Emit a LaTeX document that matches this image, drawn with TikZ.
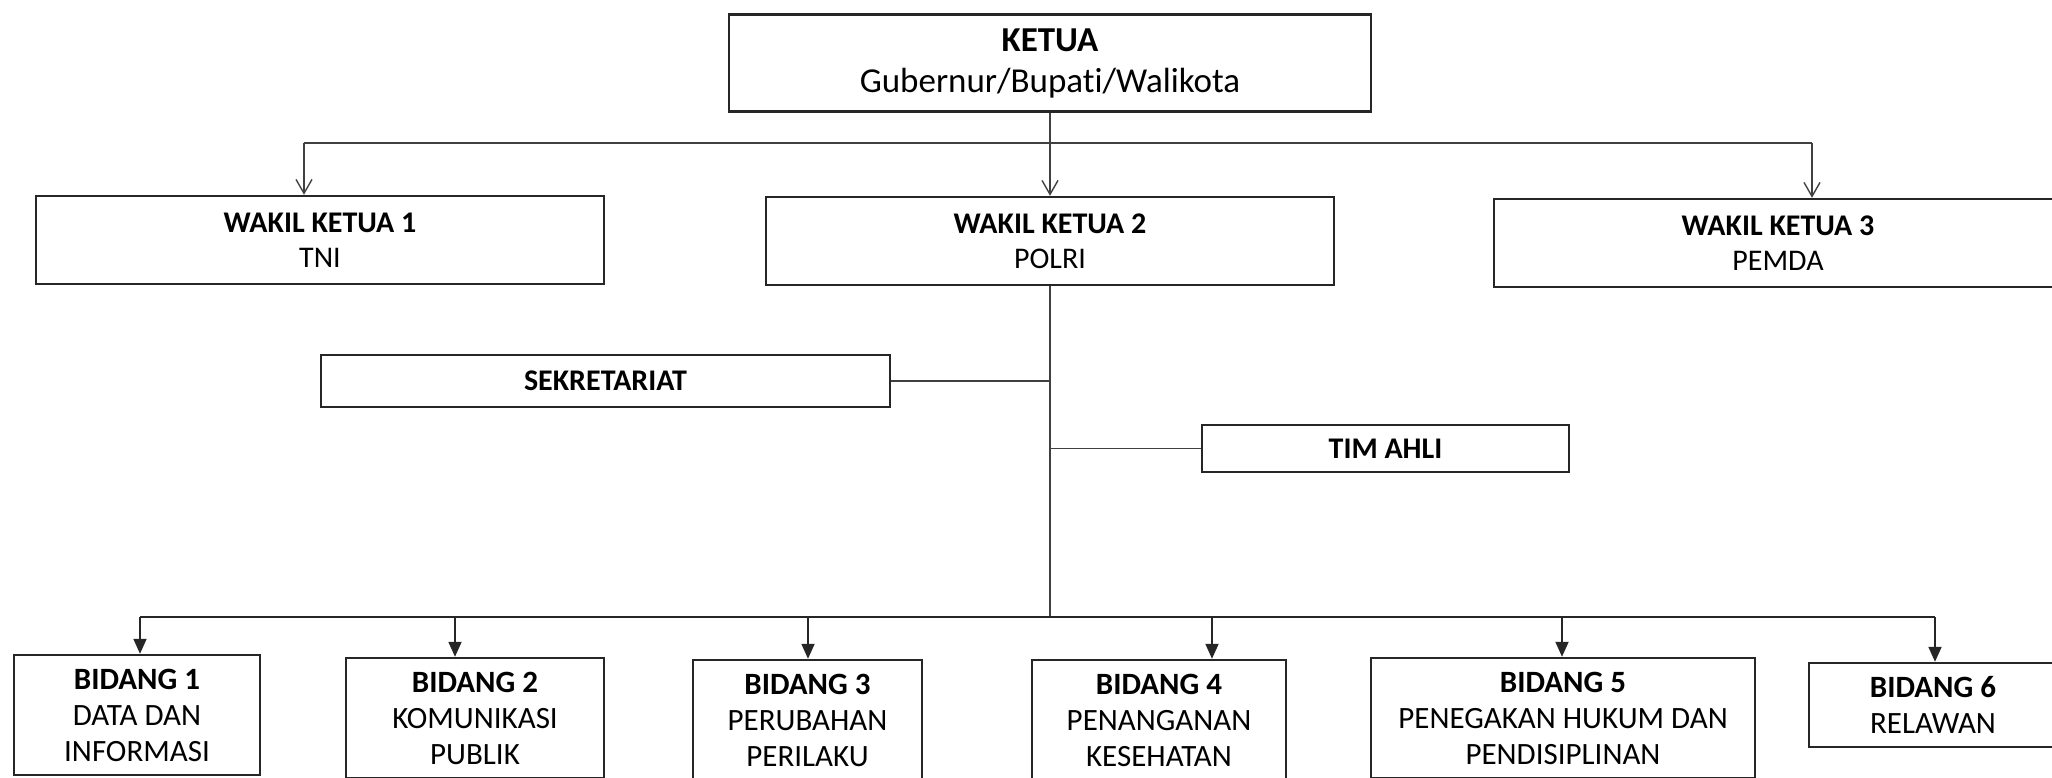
\documentclass[tikz,border=0pt]{standalone}
\usepackage{fontspec}
\setmainfont[Ligatures=NoCommon]{Carlito}
\usetikzlibrary{arrows.meta}
\begin{document}
\begin{tikzpicture}[x=0.5pt,y=-0.5pt,
  unitbox/.style={draw=black!85, line width=1.2pt, inner sep=0pt, align=center, font=\fontsize{15}{17.5}\selectfont},
  bidangbox/.style={unitbox, font=\fontsize{15.5}{18}\selectfont},
  thinline/.style={draw=black!75, line width=0.7pt},
  busline/.style={draw=black!85, line width=1.1pt},
  toparrow/.style={thinline, -{Straight Barb[length=7pt,width=8pt]}},
  botarrow/.style={draw=black!85, line width=0.9pt, -{Triangle[length=7.5pt,width=6.5pt]}}]
\clip (0,0) rectangle (2052,777);
\node[unitbox, minimum width=321pt, minimum height=48.5pt, font=\fontsize{17.5}{20.5}\selectfont] (ketua) at (1050,63) {\textbf{KETUA}\\Gubernur/Bupati/Walikota};
\foreach \w/\cx/\cy/\txt in {1/320/240/TNI, 2/1050/241/POLRI, 3/1778/243/PEMDA}
  \node[unitbox, minimum width=284pt, minimum height=44pt] (wakil\w) at (\cx,\cy) {\textbf{WAKIL KETUA \w}\\\txt};
\node[unitbox, minimum width=284.5pt, minimum height=26pt] (sekretariat) at (605.5,381) {\textbf{SEKRETARIAT}};
\node[unitbox, minimum width=183.5pt, minimum height=23.5pt] (timahli) at (1385.5,448.5) {\textbf{TIM AHLI}};
\foreach \b/\cx/\cy/\w/\h/\txt in {1/137/715/123/60/{DATA DAN\\INFORMASI}, 2/475/718/129/60/{KOMUNIKASI\\PUBLIK}, 3/807.5/720/114.5/60/{PERUBAHAN\\PERILAKU}, 4/1159/720/127/60/{PENANGANAN\\KESEHATAN}, 5/1563/718/192/60/{PENEGAKAN HUKUM DAN\\PENDISIPLINAN}, 6/1933/705/124/42/{RELAWAN}}
  \node[bidangbox, minimum width=\w pt, minimum height=\h pt] (bidang\b) at (\cx,\cy) {\textbf{BIDANG \b}\\\txt};
\coordinate (topleft) at (304,143);
\coordinate (topright) at (1812,143);
\draw[thinline] (topleft) -- (topright);
\draw[toparrow] (ketua.south) -- (wakil2.north);
\draw[toparrow] (topleft) -- (topleft |- wakil1.north);
\draw[toparrow] (topright) -- (topright |- wakil3.north);
\coordinate (spine) at (1050,617);
\draw[thinline] (wakil2.south) -- (spine);
\draw[thinline] (sekretariat.east) -- (sekretariat.east -| spine);
\draw[thinline] (timahli.west) -- (timahli.west -| spine);
\foreach \b/\ax in {1/140, 2/455, 3/808, 4/1212, 5/1562, 6/1935} {
  \coordinate (drop\b) at (\ax,617);
  \draw[botarrow] (drop\b) -- (drop\b |- bidang\b.north);
}
\draw[busline] (drop1) -- (drop6);
\end{tikzpicture}
\end{document}
